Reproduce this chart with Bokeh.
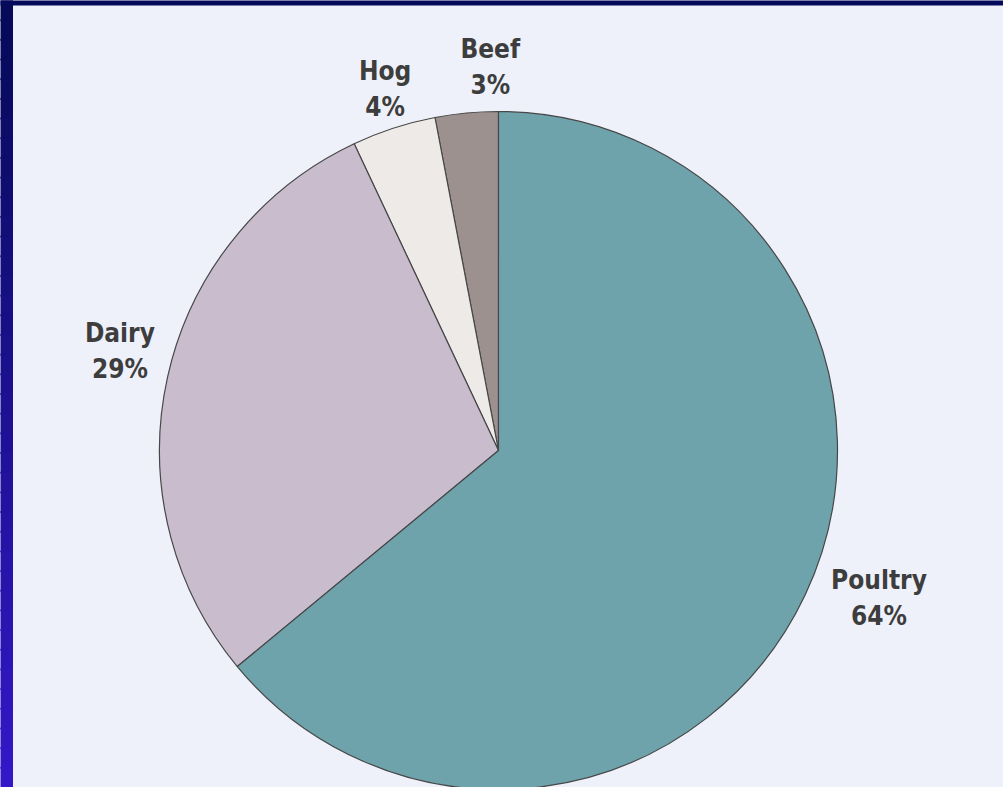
import numpy as np
from bokeh.plotting import figure
from bokeh.models import Range1d
from bokeh.core.properties import value
from bokeh.embed import file_html
from bokeh.resources import INLINE

# ---- data ----
categories = ["Beef", "Hog", "Dairy", "Poultry"]
shares = [3, 4, 29, 64]
labels = ["Beef\n3%", "Hog\n4%", "Dairy\n29%", "Poultry\n64%"]
colors = ["#9d918f", "#eeeae8", "#c8bccd", "#6ea3ac"]

W, H = 1003, 787
p = figure(width=W, height=H, output_backend="svg", toolbar_location=None,
           x_range=Range1d(0, W), y_range=Range1d(0, H),
           x_axis_location=None, y_axis_location=None)
p.min_border = 0
p.outline_line_color = None
p.grid.visible = False
p.background_fill_color = "#eef1fa"
p.border_fill_color = "#eef1fa"

# outer frame: top strip and left gradient strip (drawn as one stack of bands)
n = 40
top_c = np.array([6, 10, 88])
bot_c = np.array([52, 24, 200])
band = H / n
tops = [H - i * band + 0.5 for i in range(n)]
bots = [H - (i + 1) * band - 0.5 for i in range(n)]
cols = []
for i in range(n):
    t = i / (n - 1)
    c = (top_c * (1 - t) + bot_c * t).astype(int)
    cols.append("#%02x%02x%02x" % tuple(c))
p.quad(left=-5, right=12, top=tops, bottom=bots, fill_color=cols, line_color=cols, line_width=1)
p.quad(left=-5, right=W + 5, top=H + 5, bottom=H - 5, fill_color="#060a5a", line_color=None)

# pie
cx, cy, R = 498, H - 450, 339
cum = np.cumsum([0] + shares)
total = float(sum(shares))
starts = np.pi / 2 + 2 * np.pi * cum[:-1] / total
ends = np.pi / 2 + 2 * np.pi * cum[1:] / total
p.wedge(x=cx, y=cy, radius=R, start_angle=starts, end_angle=ends,
        direction="anticlock", fill_color=colors, line_color="#474747", line_width=1.2)

# labels around the pie
mids = (starts + ends) / 2
lab_r = [385, 380, 390, 405]
nudge_x = [28, 4, 2, 14]
nudge_y = [0, 0, 14, 25]
lx = [cx + r * np.cos(a) + dx for r, a, dx in zip(lab_r, mids, nudge_x)]
ly = [cy + r * np.sin(a) + dy for r, a, dy in zip(lab_r, mids, nudge_y)]
p.text(x=lx, y=ly, text=labels, text_align="center", text_baseline="middle",
       text_font=value("'Liberation Sans Narrow', 'DejaVu Sans Condensed', sans-serif"),
       text_font_style="bold", text_font_size="26px", text_color="#3d3d3d",
       text_line_height=1.2)

open("out.html", "w").write(file_html(p, INLINE))
